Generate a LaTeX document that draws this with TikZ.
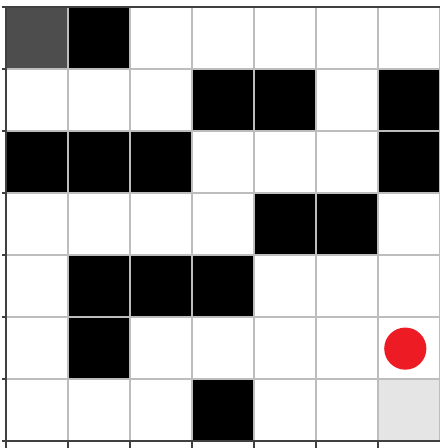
\documentclass[tikz,border=0pt]{standalone}
\usepackage{tikz}
\usepackage{xcolor}
\definecolor{startgray}{HTML}{4D4D4D}
\definecolor{goalgray}{HTML}{E5E5E5}
\definecolor{agentred}{HTML}{ED1C24}
\definecolor{gridgray}{HTML}{BDBDBD}
\definecolor{spinegray}{HTML}{404040}

\begin{document}
\begin{tikzpicture}
\useasboundingbox (-0.097,-0.113) rectangle (7,7.113);
\fill [white] (-0.097,-0.113) rectangle (7,7.113);
% start and goal cells
\fill [startgray] (0,6) rectangle (1,7);
\fill [goalgray] (6,0) rectangle (7,1);
% walls
\fill (1,6) rectangle (2,7);
\fill (3,5) rectangle (4,6);
\fill (4,5) rectangle (5,6);
\fill (6,5) rectangle (7,6);
\fill (0,4) rectangle (1,5);
\fill (1,4) rectangle (2,5);
\fill (2,4) rectangle (3,5);
\fill (6,4) rectangle (7,5);
\fill (4,3) rectangle (5,4);
\fill (5,3) rectangle (6,4);
\fill (1,2) rectangle (2,3);
\fill (2,2) rectangle (3,3);
\fill (3,2) rectangle (4,3);
\fill (1,1) rectangle (2,2);
\fill (3,0) rectangle (4,1);
% grid
\draw [gridgray,line width=0.7pt] (0,0) grid (7,7);
% agent
\fill [agentred] (6.44,1.49) circle [radius=0.34];
% axes
\draw [spinegray,line width=1pt] (7,7) -- (0,7) -- (0,0) -- (7,0);
\foreach \i in {0,...,6}
  \draw [spinegray,line width=0.8pt] (\i,0) -- (\i,-0.113);
\foreach \j in {0,...,7}
  \draw [spinegray,line width=0.8pt] (0,\j) -- (-0.065,\j);
\end{tikzpicture}
\end{document}
